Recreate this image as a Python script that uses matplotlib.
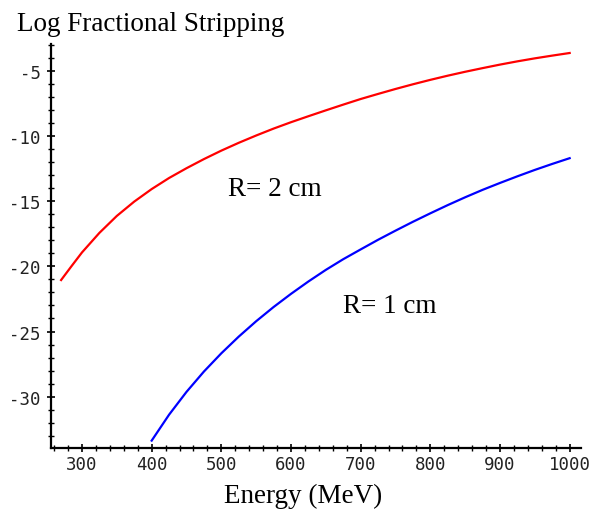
import numpy as np
import matplotlib.pyplot as plt
from matplotlib.ticker import MultipleLocator

# curve samples: energy (MeV) vs log fractional stripping
energy_2cm = [270, 285, 300, 325, 350, 375, 400, 425, 450, 475, 500, 525, 550,
              575, 600, 625, 650, 675, 700, 725, 750, 775, 800, 825, 850, 875,
              900, 925, 950, 975, 1000]
strip_2cm = [-21.05, -19.98, -18.93, -17.43, -16.13, -15.03, -14.07, -13.22,
             -12.47, -11.77, -11.12, -10.52, -9.96, -9.43, -8.94, -8.48, -8.03,
             -7.59, -7.16, -6.77, -6.39, -6.03, -5.69, -5.37, -5.07, -4.79,
             -4.52, -4.27, -4.04, -3.83, -3.63]

energy_1cm = [400, 425, 450, 475, 500, 525, 550, 575, 600, 625, 650, 675, 700,
              725, 750, 775, 800, 825, 850, 875, 900, 925, 950, 975, 1000]
strip_1cm = [-33.37, -31.38, -29.63, -28.07, -26.67, -25.39, -24.21, -23.12,
             -22.11, -21.16, -20.27, -19.45, -18.70, -17.96, -17.26, -16.58,
             -15.93, -15.30, -14.70, -14.13, -13.60, -13.09, -12.60, -12.14,
             -11.70]

x_ticks = [300, 400, 500, 600, 700, 800, 900, 1000]
y_ticks = [-30, -25, -20, -15, -10, -5]

serif = "Liberation Serif"
mono = "DejaVu Sans Mono"

fig = plt.figure(figsize=(6.0, 5.1), dpi=100)
ax = fig.add_axes([0.085, 0.119, 0.883, 0.793])

ax.plot(energy_2cm, strip_2cm, color="#ff0000", lw=1.6, solid_joinstyle="round")
ax.plot(energy_1cm, strip_1cm, color="#0000ff", lw=1.6, solid_joinstyle="round")

ax.text(509, -14.49, "R= 2 cm", family=serif, fontsize=19.5, va="baseline")
ax.text(674, -23.52, "R= 1 cm", family=serif, fontsize=19.5, va="baseline")

ax.set_xlim(255.5, 1016)
ax.set_ylim(-33.96, -2.93)

for side in ("top", "right"):
    ax.spines[side].set_visible(False)
for side in ("left", "bottom"):
    ax.spines[side].set_linewidth(1.6)

ax.set_xticks(x_ticks)
ax.set_xticklabels([str(v) for v in x_ticks])
ax.set_yticks(y_ticks)
ax.set_yticklabels([str(v) for v in y_ticks])
ax.xaxis.set_minor_locator(MultipleLocator(20))
ax.yaxis.set_minor_locator(MultipleLocator(1))

ax.tick_params(which="major", direction="inout", length=6, width=1.2)
ax.tick_params(which="minor", direction="inout", length=4, width=1.0)
ax.tick_params(axis="x", which="major", pad=1.5)
ax.tick_params(axis="y", which="major", pad=4.5)
for lab in ax.get_xticklabels() + ax.get_yticklabels():
    lab.set_family(mono)
    lab.set_fontsize(12.5)
    lab.set_color("#222222")

fig.text(17 / 600, 1 - 31 / 510, "Log Fractional Stripping", family=serif,
         fontsize=19.5, ha="left", va="baseline")
fig.text(303 / 600, 1 - 503 / 510, "Energy (MeV)", family=serif,
         fontsize=19.5, ha="center", va="baseline")

fig.savefig("out.png", dpi=100)
